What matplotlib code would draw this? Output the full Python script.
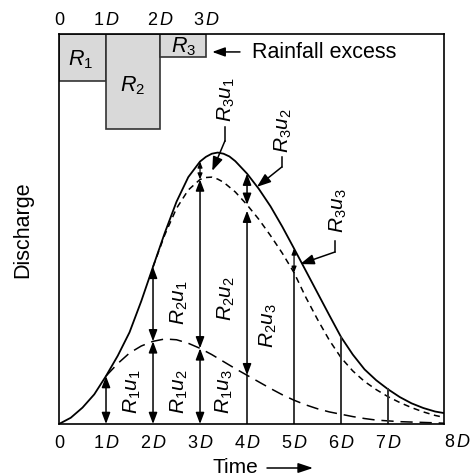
#!/usr/bin/env python3
# Unit hydrograph sketch: runoff from three blocks of rainfall excess
import matplotlib
matplotlib.use('Agg')
import matplotlib.pyplot as plt

plt.rcParams['font.family'] = ['Liberation Sans', 'DejaVu Sans']
plt.rcParams['mathtext.fontset'] = 'custom'
plt.rcParams['mathtext.rm'] = 'Liberation Sans'
plt.rcParams['mathtext.it'] = 'Liberation Sans:italic'

# rainfall excess blocks: edges in multiples of D, depth hangs from the top
rain_names = ['$R_1$', '$R_2$', '$R_3$']
rain_start = [0.0, 1.0, 2.15]
rain_end = [1.0, 2.15, 3.13]
rain_depth = [12.1, 24.4, 5.9]
top_tick_labels = ['0', r'$1\,D$', r'$2\,D$', r'$3\,D$']

# time in multiples of D
time = [0.0, 0.25, 0.5, 0.75, 1.0, 1.25, 1.5, 1.75, 2.0, 2.25, 2.5, 2.75,
        3.0, 3.125, 3.25, 3.375, 3.5, 3.625, 3.75, 4.0, 4.25, 4.5, 4.75,
        5.0, 5.25, 5.5, 5.75, 6.0, 6.25, 6.5, 6.75, 7.0, 7.25, 7.5, 7.75,
        8.0, 8.19]
# total runoff (solid)
total_q = [0.0, 1.6, 4.2, 7.6, 12.3, 17.5, 23.5, 31.5, 40.3, 49.0, 57.0, 63.3,
           67.3, 68.5, 69.3, 69.6, 69.3, 68.6, 67.4, 64.2, 60.3, 55.8, 50.6,
           45.0, 39.3, 33.6, 27.9, 22.3, 17.8, 14.0, 11.2, 8.9, 6.9, 5.3, 4.1,
           3.2, 2.8]

# R1 + R2 runoff (short dashes), leaves the total at 2D
time_r12 = [2.0, 2.25, 2.5, 2.75, 3.0, 3.125, 3.25, 3.375, 3.5, 3.75, 4.0,
            4.25, 4.5, 4.75, 5.0, 5.25, 5.5, 5.75, 6.0, 6.25, 6.5, 6.75,
            7.0, 7.25, 7.5, 7.75, 8.0, 8.19]
r12_q = [40.3, 48.5, 55.3, 60.0, 62.7, 63.2, 63.3, 62.8, 62.0, 59.5, 56.2,
         52.5, 48.3, 43.8, 38.8, 32.5, 26.8, 21.5, 17.0, 13.6, 10.9, 8.8,
         7.0, 5.5, 4.2, 3.1, 2.2, 1.7]

# R1 runoff (long dashes), leaves the total at 1D
time_r1 = [1.0, 1.25, 1.5, 1.75, 2.0, 2.25, 2.5, 2.75, 3.0, 3.25, 3.5, 3.75,
           4.0, 4.25, 4.5, 4.75, 5.0, 5.25, 5.5, 5.75, 6.0, 6.25, 6.5, 6.75,
           7.0, 7.25, 7.5, 7.75, 8.0, 8.19]
r1_q = [12.3, 15.5, 18.2, 20.0, 21.2, 21.8, 21.6, 20.7, 19.4, 17.8, 16.0, 14.2,
        12.5, 10.8, 9.1, 7.5, 6.1, 4.9, 3.9, 3.1, 2.5, 1.9, 1.4, 1.0,
        0.8, 0.6, 0.5, 0.4, 0.3, 0.2]

bottom_tick_labels = ['0', r'$1\,D$', r'$2\,D$', r'$3\,D$', r'$4\,D$',
                      r'$5\,D$', r'$6\,D$', r'$7\,D$']


def main():
    fig = plt.figure(figsize=(4.7, 4.77), dpi=100)
    ax = fig.add_axes([59 / 470, 52 / 477, 385 / 470, 390 / 477])
    ax.set_xlim(0, 8.19)
    ax.set_ylim(0, 100)
    for sp in ax.spines.values():
        sp.set_linewidth(1.2)

    draw_rain(ax)
    draw_curves(ax)
    draw_ordinates(ax)
    draw_labels(ax)
    draw_axes_text(fig, ax)

    fig.savefig('out.png', dpi=100)


def q_at(t, q, d):
    """ ordinate of a curve at a whole multiple of D """
    return q[t.index(float(d))]


def draw_rain(ax):
    """ hanging blocks of rainfall excess plus the top time scale """
    widths = [e - s for s, e in zip(rain_start, rain_end)]
    bottoms = [100 - d for d in rain_depth]
    ax.bar(rain_start, rain_depth, width=widths, bottom=bottoms, align='edge',
           facecolor='#d9d9d9', edgecolor='#333333', linewidth=1.2, zorder=2)
    name_pos = [(0.45, 93.6), (1.57, 87.0), (2.64, 96.9)]
    for name, (x, y) in zip(rain_names, name_pos):
        ax.text(x, y, name, ha='center', va='center', fontsize=15.5, zorder=3)
    edges = [rain_start[0]] + rain_end
    for x, lab in zip(edges, top_tick_labels):
        ax.text(x, 1.038, lab, transform=ax.get_xaxis_transform(),
                ha='center', va='center', fontsize=13)

    ax.annotate('', xy=(3.26, 95.4), xytext=(3.85, 95.4),
                arrowprops=dict(arrowstyle='-|>,head_length=0.55,head_width=0.2',
                                mutation_scale=14, lw=1.1, color='k',
                                shrinkA=0, shrinkB=0))
    ax.text(4.11, 95.6, 'Rainfall excess', ha='left', va='center', fontsize=15.5)


def draw_curves(ax):
    ax.plot(time, total_q, color='k', lw=1.3)
    ax.plot(time_r12, r12_q, color='k', lw=1.1, dashes=(4, 3))
    ax.plot(time_r1, r1_q, color='k', lw=1.1, dashes=(8, 4.5))


def double_arrow(ax, x, y0, y1, small=False):
    if small:
        style, ms, lw = '<|-|>,head_length=0.5,head_width=0.2', 7, 0.9
    else:
        style, ms, lw = '<|-|>,head_length=0.45,head_width=0.17', 15, 1.1
    ax.annotate('', xy=(x, y1), xytext=(x, y0),
                arrowprops=dict(arrowstyle=style, mutation_scale=ms, lw=lw,
                                color='k', shrinkA=0, shrinkB=0))


def draw_ordinates(ax):
    """ vertical ordinates at every D, split by the three runoff curves """
    lw = 1.1
    # 1D: R1 only
    double_arrow(ax, 1, 0, q_at(time_r1, r1_q, 1))
    # 2D: R1 and R2
    double_arrow(ax, 2, 0, q_at(time_r1, r1_q, 2))
    double_arrow(ax, 2, q_at(time_r1, r1_q, 2), q_at(time, total_q, 2))
    # 3D: R1, R2 and R3
    double_arrow(ax, 3, 0, q_at(time_r1, r1_q, 3))
    double_arrow(ax, 3, q_at(time_r1, r1_q, 3), q_at(time_r12, r12_q, 3))
    double_arrow(ax, 3, q_at(time_r12, r12_q, 3), q_at(time, total_q, 3), small=True)
    # 4D: R1 line, R2 and R3 arrows
    ax.plot([4, 4], [0, q_at(time_r1, r1_q, 4)], color='k', lw=lw)
    double_arrow(ax, 4, q_at(time_r1, r1_q, 4), q_at(time_r12, r12_q, 4) - 1.5)
    double_arrow(ax, 4, q_at(time_r12, r12_q, 4), q_at(time, total_q, 4))
    # 5D: line up to R1 + R2, small R3 arrow
    ax.plot([5, 5], [0, q_at(time_r12, r12_q, 5)], color='k', lw=lw)
    double_arrow(ax, 5, q_at(time_r12, r12_q, 5), q_at(time, total_q, 5), small=True)
    # 6D and 7D: plain lines
    for d in [6, 7]:
        ax.plot([d, d], [0, q_at(time, total_q, d)], color='#333333', lw=1.4)


def draw_labels(ax):
    fs = 15
    rot = dict(rotation=90, ha='center', va='center', fontsize=fs)
    ax.text(1.56, 8.5, '$R_1u_1$', **rot)
    ax.text(2.55, 8.5, '$R_1u_2$', **rot)
    ax.text(3.51, 8.5, '$R_1u_3$', **rot)
    ax.text(2.57, 31.5, '$R_2u_1$', **rot)
    ax.text(3.57, 32.3, '$R_2u_2$', **rot)
    ax.text(4.45, 25.4, '$R_2u_3$', **rot)
    ax.text(3.57, 83.3, '$R_3u_1$', **rot)
    ax.text(4.77, 75.6, '$R_3u_2$', **rot)
    ax.text(5.94, 55.1, '$R_3u_3$', **rot)

    # leaders: short vertical run, then a slanted arrow to the ordinate
    leaders = [((3.53, 76.2), (3.53, 72.6), (3.26, 64.9)),
               ((4.74, 68.5), (4.74, 65.9), (4.21, 60.8)),
               ((5.87, 46.9), (5.87, 44.1), (5.13, 41.0))]
    for start, bend, tip in leaders:
        ax.plot([start[0], bend[0]], [start[1], bend[1]], color='k', lw=1.1)
        ax.annotate('', xy=tip, xytext=bend,
                    arrowprops=dict(arrowstyle='-|>,head_length=0.6,head_width=0.22',
                                    mutation_scale=14, lw=1.1, color='k',
                                    shrinkA=0, shrinkB=0))


def draw_axes_text(fig, ax):
    ax.set_yticks([])
    ax.set_xticks(range(len(bottom_tick_labels)))
    ax.set_xticklabels(bottom_tick_labels, fontsize=13)
    ax.tick_params(axis='x', length=0, pad=7)
    ax.text(8.19, -0.046, r'$8\,D$', transform=ax.get_xaxis_transform(),
            ha='left', va='center', fontsize=13)

    fig.text(23 / 470, 1 - 230 / 477, 'Discharge', rotation=90,
             ha='center', va='center', fontsize=15.5)
    fig.text(235 / 470, 1 - 468 / 477, 'Time', ha='center', va='center', fontsize=15)
    ax.annotate('', xy=(313 / 470, 1 - 469 / 477), xytext=(267 / 470, 1 - 469 / 477),
                xycoords='figure fraction', textcoords='figure fraction',
                arrowprops=dict(arrowstyle='-|>,head_length=0.6,head_width=0.2',
                                mutation_scale=15, lw=1.1, color='k',
                                shrinkA=0, shrinkB=0),
                annotation_clip=False)


if __name__ == "__main__":
    main()
